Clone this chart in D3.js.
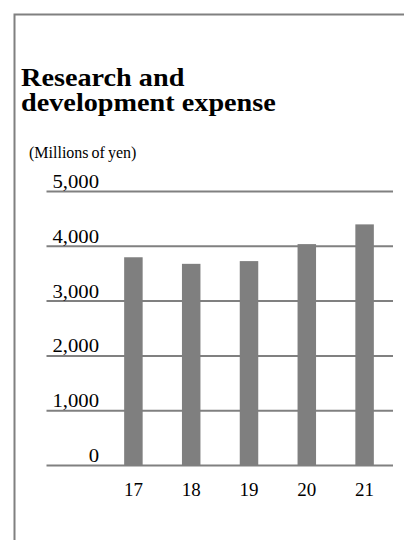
<!DOCTYPE html>
<html><head><meta charset="utf-8">
<script src="https://cdn.jsdelivr.net/npm/d3@7/dist/d3.min.js"></script>
<style>html,body{margin:0;padding:0;background:#fff;}svg{display:block;}</style>
</head><body>
<script>
const categories = ["17", "18", "19", "20", "21"];
const values = [3800, 3680, 3730, 4040, 4400];
const yTicks = [0, 1000, 2000, 3000, 4000, 5000];
const titleLines = ["Research and", "development expense"];
const unitLabel = "(Millions of yen)";

const W = 404, H = 540;
const svg = d3.select("body").append("svg").attr("width", W).attr("height", H);
const font = "'Liberation Serif','Times New Roman',serif";
const grey = "#808080";

// frame
svg.append("path").attr("d", `M14.5,${H} V14.5 H${W}`)
  .attr("fill", "none").attr("stroke", grey).attr("stroke-width", 2);

// title
svg.append("text").attr("font-family", font).attr("font-weight", "bold")
  .attr("font-size", 25).attr("fill", "#000")
  .attr("transform", "translate(21,0) scale(1.13,1)")
  .selectAll("tspan").data(titleLines).join("tspan")
  .attr("x", 0).attr("y", (d, i) => 86 + i * 25.5).text(d => d);

svg.append("text").attr("font-family", font).attr("font-size", 16)
  .attr("word-spacing", -1)
  .attr("x", 29).attr("y", 158).attr("fill", "#000").text(unitLabel);

const y = d3.scaleLinear().domain([0, 5000]).range([465.5, 191.5]);
const x = d3.scaleBand().domain(categories).range([104.5, 393.5])
  .paddingInner(0.68).paddingOuter(0.34);

// gridlines
const yAxis = d3.axisLeft(y).tickValues(yTicks).tickFormat(d3.format(",")).tickSize(0);
svg.append("g").selectAll("line.grid").data(yTicks).join("line").attr("class", "grid")
  .attr("x1", 46.5).attr("x2", 393).attr("y1", d => y(d)).attr("y2", d => y(d))
  .attr("stroke", grey).attr("stroke-width", 2);

// bars
svg.append("g").selectAll("rect").data(values).join("rect")
  .attr("x", (d, i) => x(categories[i])).attr("width", x.bandwidth())
  .attr("y", d => y(d)).attr("height", d => y(0) - y(d))
  .attr("fill", "#7f7f7f");

// y labels via axis
const ya = svg.append("g").attr("transform", "translate(99,0)").call(yAxis);
ya.select(".domain").remove();
ya.selectAll("text").attr("font-family", font).attr("font-size", 18)
  .attr("fill", "#000").attr("x", 0).attr("dy", null).attr("y", -4)
  .attr("text-anchor", "end").attr("transform", "scale(1.15,1)");

// x labels via axis
const xAxis = d3.axisBottom(x).tickSize(0);
const xa = svg.append("g").attr("transform", "translate(0,465.5)").call(xAxis);
xa.select(".domain").remove();
xa.selectAll("text").attr("font-family", font).attr("font-size", 19)
  .attr("fill", "#000").attr("dy", null).attr("y", 30.5);
</script>
</body></html>
